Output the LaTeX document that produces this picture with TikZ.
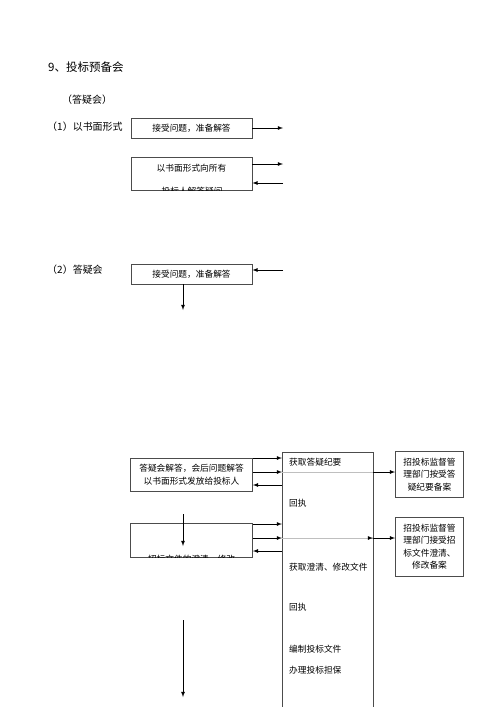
\documentclass[tikz,border=0pt]{standalone}
\usepackage{fontspec}
\setmainfont{Noto Sans CJK SC}
\tikzset{
  boxnode/.style={draw=black!70,thick,inner sep=0pt,font=\fontsize{8.7}{12.5}\selectfont},
  lbl/.style={anchor=west,inner sep=0pt,font=\fontsize{10}{12}\selectfont},
  inlbl/.style={anchor=west,inner sep=0pt,font=\fontsize{8.7}{12}\selectfont},
  conn/.style={thick,->},
  faint/.style={black!25,thick}
}
\begin{document}
\begin{tikzpicture}[x=1pt,y=-1pt,>=latex]
  \useasboundingbox (0,0) rectangle (500,707);
  % headings
  \node[lbl,font=\fontsize{11.5}{13}\selectfont] (title) at (48,67) {9、投标预备会};
  \node[lbl] (sub) at (62,100) {（答疑会）};
  \node[lbl] (part1) at (47,127) {（1）以书面形式};
  \node[lbl] (part2) at (47,270) {（2）答疑会};
  % upper boxes
  \node[boxnode,minimum width=121,minimum height=20] (recv1) at (191.5,128) {接受问题，准备解答};
  \node[boxnode,minimum width=121,minimum height=33] (written) at (191.5,173.5) {};
  \node[font=\fontsize{8.7}{12}\selectfont,inner sep=0pt] (written1) at (191.5,168) {以书面形式向所有};
  \begin{scope}
    \clip (written.north west) rectangle (written.south east);
    \node[font=\fontsize{8.7}{12}\selectfont,inner sep=0pt] (written2) at (192,191.5) {投标人解答疑问};
  \end{scope}
  \node[boxnode,minimum width=121,minimum height=20] (recv2) at (191.5,274) {接受问题，准备解答};
  \coordinate (o1) at (283,128);
  \coordinate (o2) at (283,164);
  \coordinate (o3) at (283,183);
  \coordinate (o4) at (283,270);
  \coordinate (d1) at (183,310);
  \draw[conn] (recv1) -- (o1);
  \draw[conn] (written.east |- o2) -- (o2);
  \draw[conn] (o3) -- (written.east |- o3);
  \draw[conn] (o4) -- (recv2.east |- o4);
  \draw[conn] (recv2.south -| d1) -- (d1);
  % lower part
  \node[boxnode,minimum width=122,minimum height=33,align=center] (answer) at (191.5,474.5) {答疑会解答，会后问题解答\\以书面形式发放给投标人};
  \node[boxnode,minimum width=122,minimum height=34] (clarify) at (191.5,540.5) {};
  \begin{scope}
    \clip (clarify.north west) rectangle (clarify.south east);
    \node[font=\fontsize{8.7}{12}\selectfont,inner sep=0pt] (clarify1) at (191.5,559.5) {招标文件的澄清、修改};
  \end{scope}
  \draw[black!70,thick] (282,720) -- (282,452) coordinate (col) -- (373,452) -- (373,720);
  \node[inlbl] (get1) at (289,462) {获取答疑纪要};
  \node[inlbl] (ack1) at (289,503) {回执};
  \node[inlbl] (get2) at (289,567) {获取澄清、修改文件};
  \node[inlbl] (ack2) at (289,607) {回执};
  \node[inlbl] (make) at (289,649) {编制投标文件};
  \node[inlbl] (bond) at (289,670) {办理投标担保};
  \node[boxnode,minimum width=68,minimum height=46,align=center] (rec1) at (429.5,474.5) {招投标监督管\\理部门按受答\\疑纪要备案};
  \node[boxnode,minimum width=68,minimum height=59,align=center] (rec2) at (429.5,546.5) {招投标监督管\\理部门接受招\\标文件澄清、\\修改备案};
  \coordinate (p1) at (282,458);
  \coordinate (p2) at (282,472);
  \coordinate (p3) at (282,485);
  \coordinate (q1) at (282,524);
  \coordinate (q2) at (282,538);
  \coordinate (q3) at (282,551);
  \coordinate (r1) at (373,472);
  \coordinate (r2) at (373,538);
  \draw[conn] (answer.east |- p1) -- (p1);
  \draw[conn] (answer.east |- p2) -- (p2);
  \draw[conn] (p3) -- (answer.east |- p3);
  \draw[faint] (p2) -- (r1);
  \draw[conn] (r1) -- (rec1.west |- r1);
  \draw[conn] (clarify.east |- q1) -- (q1);
  \draw[conn] (clarify.east |- q2) -- (q2);
  \draw[conn] (q3) -- (clarify.east |- q3);
  \draw[faint] (q2) -- (r2);
  \draw[conn] (370,538) -- (r2);
  \draw[conn] (r2) -- (rec2.west |- r2);
  \coordinate (d2) at (183,514);
  \coordinate (d3) at (183,546);
  \coordinate (d4) at (183,620);
  \coordinate (d5) at (183,697);
  \draw[conn] (d2) -- (d3);
  \draw[conn] (d4) -- (d5);
\end{tikzpicture}
\end{document}
